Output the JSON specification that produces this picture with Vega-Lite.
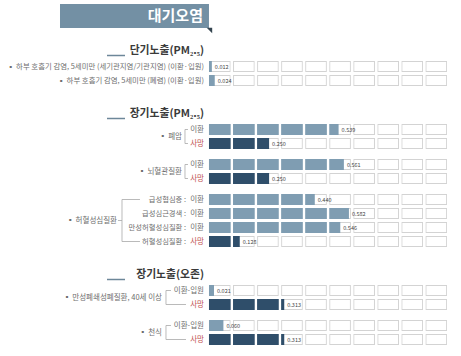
{
  "$schema": "https://vega.github.io/schema/vega-lite/v6.json",
  "width": 461,
  "height": 357,
  "autosize": {"type": "none"},
  "padding": 0,
  "background": "white",
  "config": {"view": {"stroke": null}, "axis": {"disable": true}, "text": {"font": "Noto Sans CJK KR", "baseline": "middle"}},
  "datasets": {
    "banner": [{"key": "banner", "title": "대기오염"}],
    "headings": [
      {"key": "h1", "text": "단기노출(PM₂.₅)"},
      {"key": "h2", "text": "장기노출(PM₂.₅)"},
      {"key": "h3", "text": "장기노출(오존)"}
    ],
    "rows": [
      {"key": "r1", "section": "PM2.5 단기", "prefix": "", "tag": "▪ 하부 호흡기 감염, 5세미만 (세기관지염/기관지염) (이환·입원)", "type": "이환", "value": 0.012},
      {"key": "r2", "section": "PM2.5 단기", "prefix": "", "tag": "▪ 하부 호흡기 감염, 5세미만 (폐렴) (이환·입원)", "type": "이환", "value": 0.024},
      {"key": "r3", "section": "PM2.5 장기", "prefix": "", "tag": "이환", "type": "이환", "value": 0.539},
      {"key": "r4", "section": "PM2.5 장기", "prefix": "", "tag": "사망", "type": "사망", "value": 0.250},
      {"key": "r5", "section": "PM2.5 장기", "prefix": "", "tag": "이환", "type": "이환", "value": 0.561},
      {"key": "r6", "section": "PM2.5 장기", "prefix": "", "tag": "사망", "type": "사망", "value": 0.250},
      {"key": "r7", "section": "PM2.5 장기", "prefix": "급성협심증 :", "tag": "이환", "type": "이환", "value": 0.440},
      {"key": "r8", "section": "PM2.5 장기", "prefix": "급성심근경색 :", "tag": "이환", "type": "이환", "value": 0.582},
      {"key": "r9", "section": "PM2.5 장기", "prefix": "만성허혈성심질환 :", "tag": "이환", "type": "이환", "value": 0.546},
      {"key": "r10", "section": "PM2.5 장기", "prefix": "허혈성심질환 :", "tag": "사망", "type": "사망", "value": 0.128},
      {"key": "r11", "section": "오존 장기", "prefix": "", "tag": "이환-입원", "type": "이환", "value": 0.021},
      {"key": "r12", "section": "오존 장기", "prefix": "", "tag": "사망", "type": "사망", "value": 0.313},
      {"key": "r13", "section": "오존 장기", "prefix": "", "tag": "이환-입원", "type": "이환", "value": 0.060},
      {"key": "r14", "section": "오존 장기", "prefix": "", "tag": "사망", "type": "사망", "value": 0.313}
    ],
    "groups": [
      {"key": "g1", "label": "▪ 폐암", "top": "r3", "bot": "r4", "style": "A"},
      {"key": "g2", "label": "▪ 뇌혈관질환", "top": "r5", "bot": "r6", "style": "A"},
      {"key": "g3", "label": "▪ 허혈성심질환", "top": "r7", "bot": "r10", "style": "B"},
      {"key": "g4", "label": "▪ 만성폐쇄성폐질환, 40세 이상", "top": "r11", "bot": "r12", "style": "C"},
      {"key": "g5", "label": "▪ 천식", "top": "r13", "bot": "r14", "style": "C"}
    ]
  },
  "encoding": {
    "y": {
      "field": "key",
      "type": "nominal",
      "axis": null,
      "scale": {
        "type": "band",
        "paddingInner": 0,
        "paddingOuter": 0,
        "domain": ["s0","s1","banner","s3","s4","s5","s6","h1","s8","r1","s10","r2","s12","s13","s14","s15","h2","s17","r3","g1","r4","s21","s22","r5","g2","r6","s26","s27","r7","s29","r8","g3","r9","s33","r10","s35","s36","s37","s38","h3","s40","r11","g4","r12","s44","s45","r13","g5","r14","s49","s50"]
      }
    }
  },
  "layer": [
    {
      "data": {"name": "rows"},
      "mark": {"type": "rule", "strokeWidth": 11, "strokeDash": [21.7, 2.35], "color": "#d3d3d3"},
      "encoding": {"x": {"datum": 0}, "x2": {"datum": 1}}
    },
    {
      "data": {"name": "rows"},
      "mark": {"type": "rule", "strokeWidth": 9, "strokeDash": [19.7, 4.35], "strokeDashOffset": 23.05, "color": "white"},
      "encoding": {"x": {"datum": 0}, "x2": {"datum": 1}}
    },
    {
      "data": {"name": "rows"},
      "mark": {"type": "bar", "height": 11},
      "encoding": {
        "x": {"field": "value", "type": "quantitative", "axis": null, "scale": {"domain": [-0.869, 1.048], "nice": false, "zero": false}},
        "color": {"field": "type", "type": "nominal", "legend": null, "scale": {"domain": ["이환", "사망"], "range": ["#7f9db2", "#2f4e6a"]}}
      }
    },
    {
      "data": {"name": "rows"},
      "mark": {"type": "rule", "strokeWidth": 12, "strokeDash": [2.35, 21.7], "strokeDashOffset": 2.35, "color": "white"},
      "encoding": {"x": {"datum": 0}, "x2": {"datum": 1}}
    },
    {
      "data": {"name": "rows"},
      "mark": {"type": "text", "align": "left", "dx": 3, "fontSize": 5.5, "color": "#444444"},
      "encoding": {
        "x": {"field": "value", "type": "quantitative", "axis": null, "scale": {"domain": [-0.869, 1.048], "nice": false, "zero": false}},
        "text": {"field": "value", "type": "quantitative", "format": ".3f"}
      }
    },
    {
      "data": {"name": "banner"},
      "mark": {"type": "rule", "strokeWidth": 24, "yOffset": -1.5, "color": "#7390a4"},
      "encoding": {"x": {"datum": -0.6195}, "x2": {"datum": 0}}
    },
    {
      "data": {"name": "banner"},
      "mark": {"type": "point", "shape": "M-1,-1L1,-1L1,1Z", "size": 30, "filled": true, "color": "#34444f", "opacity": 1, "yOffset": 13},
      "encoding": {"x": {"datum": 0.002}}
    },
    {
      "data": {"name": "banner"},
      "mark": {"type": "text", "align": "right", "dx": -6, "dy": -1.5, "fontSize": 15, "fontWeight": "bold", "color": "white"},
      "encoding": {"x": {"datum": 0}, "text": {"field": "title"}}
    },
    {
      "data": {"name": "headings"},
      "mark": {"type": "rule", "yOffset": 3, "color": "#6d8799", "strokeWidth": 1.5},
      "encoding": {"x": {"datum": -0.4241}, "x2": {"datum": -0.3493}}
    },
    {
      "data": {"name": "headings"},
      "mark": {"type": "text", "align": "right", "dy": -1.5, "fontSize": 10.8, "fontWeight": "bold", "color": "#3a3a3a"},
      "encoding": {"x": {"datum": -0.0208}, "text": {"field": "text"}}
    },
    {
      "data": {"name": "rows"},
      "transform": [{"filter": "datum.section === 'PM2.5 단기'"}],
      "mark": {"type": "text", "align": "right", "fontSize": 7.4},
      "encoding": {
        "x": {"datum": -0.0208},
        "text": {"field": "tag"},
        "fill": {"field": "type", "type": "nominal", "legend": null, "scale": {"domain": ["이환", "사망"], "range": ["#6e6e6e", "#c0504d"]}}
      }
    },
    {
      "data": {"name": "rows"},
      "transform": [{"filter": "datum.section !== 'PM2.5 단기'"}],
      "mark": {"type": "text", "align": "right", "fontSize": 7.5},
      "encoding": {
        "x": {"datum": -0.0208},
        "text": {"field": "tag"},
        "fill": {"field": "type", "type": "nominal", "legend": null, "scale": {"domain": ["이환", "사망"], "range": ["#6e6e6e", "#c0504d"]}}
      }
    },
    {
      "data": {"name": "rows"},
      "mark": {"type": "text", "align": "right", "dx": -18, "fontSize": 7.3, "color": "#6e6e6e"},
      "encoding": {"x": {"datum": -0.0208}, "text": {"field": "prefix"}}
    },
    {
      "data": {"name": "groups"},
      "transform": [{"filter": "datum.style === 'A'"}],
      "mark": {"type": "text", "align": "right", "fontSize": 7.5, "color": "#6e6e6e"},
      "encoding": {"x": {"datum": -0.1123}, "text": {"field": "label"}}
    },
    {
      "data": {"name": "groups"},
      "transform": [{"filter": "datum.style === 'B'"}],
      "mark": {"type": "text", "align": "right", "fontSize": 7.5, "color": "#6e6e6e"},
      "encoding": {"x": {"datum": -0.3825}, "text": {"field": "label"}}
    },
    {
      "data": {"name": "groups"},
      "transform": [{"filter": "datum.style === 'C'"}],
      "mark": {"type": "text", "align": "right", "fontSize": 7.5, "color": "#6e6e6e"},
      "encoding": {"x": {"datum": -0.1954}, "text": {"field": "label"}}
    },
    {
      "data": {"name": "groups"},
      "transform": [{"filter": "datum.style === 'A'"}],
      "mark": {"type": "rule", "color": "#a8a8a8", "strokeWidth": 0.8},
      "encoding": {"x": {"datum": -0.0998}, "y": {"field": "top", "type": "nominal"}, "y2": {"field": "bot"}}
    },
    {
      "data": {"name": "groups"},
      "transform": [{"filter": "datum.style === 'A'"}],
      "mark": {"type": "rule", "color": "#a8a8a8", "strokeWidth": 0.8},
      "encoding": {"x": {"datum": -0.0998}, "x2": {"datum": -0.0873}, "y": {"field": "top", "type": "nominal"}}
    },
    {
      "data": {"name": "groups"},
      "transform": [{"filter": "datum.style === 'A'"}],
      "mark": {"type": "rule", "color": "#a8a8a8", "strokeWidth": 0.8},
      "encoding": {"x": {"datum": -0.0998}, "x2": {"datum": -0.0873}, "y": {"field": "bot", "type": "nominal"}}
    },
    {
      "data": {"name": "groups"},
      "transform": [{"filter": "datum.style === 'B'"}],
      "mark": {"type": "rule", "color": "#a8a8a8", "strokeWidth": 0.8},
      "encoding": {"x": {"datum": -0.3617}, "y": {"field": "top", "type": "nominal"}, "y2": {"field": "bot"}}
    },
    {
      "data": {"name": "groups"},
      "transform": [{"filter": "datum.style === 'B'"}],
      "mark": {"type": "rule", "color": "#a8a8a8", "strokeWidth": 0.8},
      "encoding": {"x": {"datum": -0.3617}, "x2": {"datum": -0.287}, "y": {"field": "top", "type": "nominal"}}
    },
    {
      "data": {"name": "groups"},
      "transform": [{"filter": "datum.style === 'B'"}],
      "mark": {"type": "rule", "color": "#a8a8a8", "strokeWidth": 0.8},
      "encoding": {"x": {"datum": -0.3617}, "x2": {"datum": -0.287}, "y": {"field": "bot", "type": "nominal"}}
    },
    {
      "data": {"name": "groups"},
      "transform": [{"filter": "datum.style === 'B'"}],
      "mark": {"type": "rule", "color": "#a8a8a8", "strokeWidth": 0.8},
      "encoding": {"x": {"datum": -0.3784}, "x2": {"datum": -0.3617}}
    },
    {
      "data": {"name": "groups"},
      "transform": [{"filter": "datum.style === 'C'"}],
      "mark": {"type": "rule", "color": "#a8a8a8", "strokeWidth": 0.8},
      "encoding": {"x": {"datum": -0.1788}, "y": {"field": "top", "type": "nominal"}, "y2": {"field": "bot"}}
    },
    {
      "data": {"name": "groups"},
      "transform": [{"filter": "datum.style === 'C'"}],
      "mark": {"type": "rule", "color": "#a8a8a8", "strokeWidth": 0.8},
      "encoding": {"x": {"datum": -0.1788}, "x2": {"datum": -0.158}, "y": {"field": "top", "type": "nominal"}}
    },
    {
      "data": {"name": "groups"},
      "transform": [{"filter": "datum.style === 'C'"}],
      "mark": {"type": "rule", "color": "#a8a8a8", "strokeWidth": 0.8},
      "encoding": {"x": {"datum": -0.1788}, "x2": {"datum": -0.0956}, "y": {"field": "bot", "type": "nominal"}}
    }
  ]
}
